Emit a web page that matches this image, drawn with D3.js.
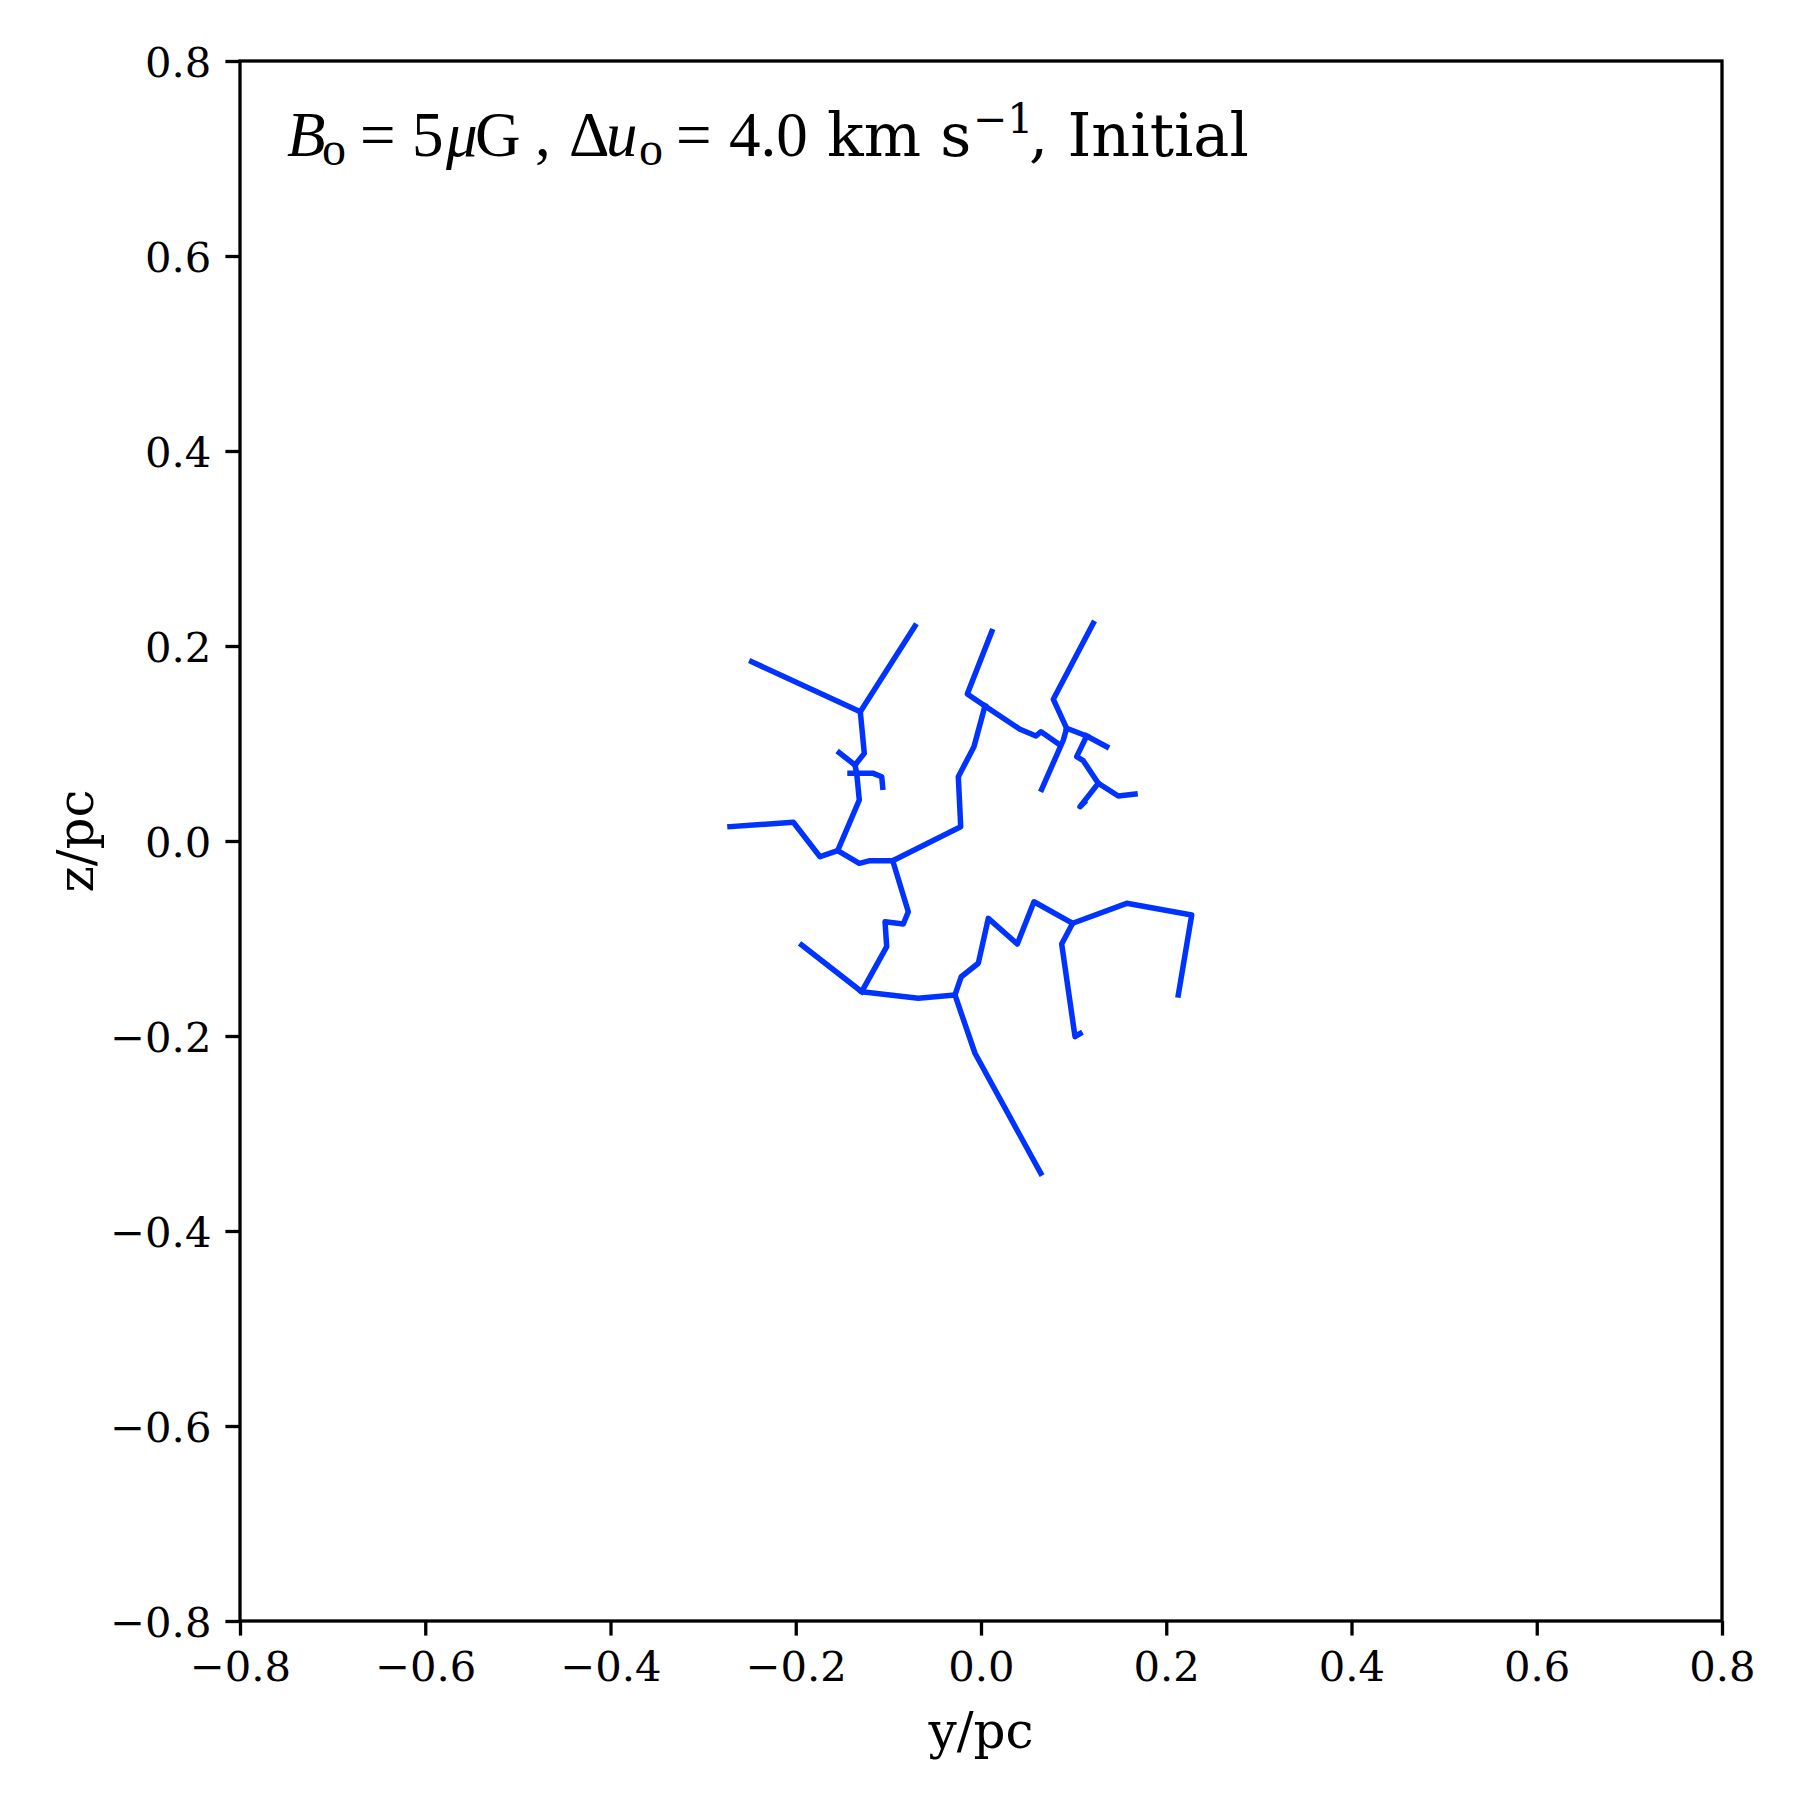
<!DOCTYPE html>
<html><head><meta charset="utf-8">
<script src="https://cdn.jsdelivr.net/npm/d3@7"></script>
<style>body{margin:0;background:#fff}svg{display:block}</style>
</head><body>
<script>
// Filament skeleton segments: [y/pc, z/pc]
const fil1 = [[-0.2476,0.1839],[-0.1303,0.1326],[-0.0713,0.2205]];
const fil2 = [[-0.1303,0.1326],[-0.1260,0.0899],[-0.1360,0.0779],[-0.1342,0.0694],[-0.1314,0.0421],[-0.1547,-0.0099]];
const fil3 = [[-0.1530,0.0906],[-0.1360,0.0779]];
const fil4 = [[-0.1414,0.0694],[-0.1163,0.0694],[-0.1072,0.0659],[-0.1061,0.0551]];
const fil5 = [[-0.2710,0.0147],[-0.2026,0.0192],[-0.1738,-0.0161],[-0.1547,-0.0099],[-0.1314,-0.0229],[-0.1198,-0.0202],[-0.0953,-0.0202],[-0.0219,0.0147],[-0.0245,0.0659],[-0.0076,0.0967],[0.0043,0.1385]];
const fil6 = [[0.0116,0.2147],[-0.0148,0.1508],[0.0043,0.1385]];
const fil7 = [[0.0043,0.1385],[0.0421,0.1146],[0.0594,0.1077],[0.0648,0.1121],[0.0853,0.0985]];
const fil8 = [[0.1212,0.2233],[0.0781,0.1453],[0.0925,0.1156],[0.0889,0.1036],[0.0655,0.0530]];
const fil9 = [[0.0925,0.1156],[0.1141,0.1077],[0.1357,0.0967]];
const fil10 = [[0.1141,0.1077],[0.1033,0.0865],[0.1104,0.0824],[0.1266,0.0592],[0.1482,0.0462],[0.1663,0.0482]];
const fil11 = [[0.1266,0.0592],[0.1069,0.0352],[0.1115,0.0395]];
const fil12 = [[-0.0953,-0.0202],[-0.0785,-0.0725],[-0.0839,-0.0851],[-0.1036,-0.0828],[-0.1018,-0.1084],[-0.1288,-0.1546]];
const fil13 = [[-0.1936,-0.1067],[-0.1288,-0.1546],[-0.0677,-0.1613],[-0.0281,-0.1579],[-0.0065,-0.2177],[0.0645,-0.3408]];
const fil14 = [[-0.0281,-0.1579],[-0.0213,-0.1392],[-0.0029,-0.1254],[0.0079,-0.0793],[0.0392,-0.1056],[0.0572,-0.0623],[0.0990,-0.0844],[0.1573,-0.0639],[0.2275,-0.0759],[0.2130,-0.1579]];
const fil15 = [[0.0990,-0.0844],[0.0871,-0.1056],[0.1015,-0.2007],[0.1070,-0.1975]];
const filaments = [fil1,fil2,fil3,fil4,fil5,fil6,fil7,fil8,fil9,fil10,fil11,fil12,fil13,fil14,fil15];

const xTicks = [-0.8,-0.6,-0.4,-0.2,0.0,0.2,0.4,0.6,0.8];
const yTicks = [-0.8,-0.6,-0.4,-0.2,0.0,0.2,0.4,0.6,0.8];
const xDomain = [-0.8,0.8];
const yDomain = [-0.8,0.8];

const W = 1800, H = 1800;
const m = {left:240, right:78, top:61, bottom:179};
const svg = d3.select("body").append("svg").attr("width",W).attr("height",H);
const x = d3.scaleLinear().domain(xDomain).range([m.left, W-m.right]);
const y = d3.scaleLinear().domain(yDomain).range([H-m.bottom, m.top]);
const fmt = d3.format(".1f");
const font = "DejaVu Serif";
const mathFont = "Liberation Serif";

const line = d3.line().x(d=>x(d[0])).y(d=>y(d[1]));
const g = svg.append("g");
g.selectAll("path.fil").data(filaments).join("path")
  .attr("class","fil").attr("d",line)
  .attr("fill","none").attr("stroke","#0033ff").attr("stroke-width",5.5)
  .attr("stroke-linecap","square").attr("stroke-linejoin","round");

const xa = svg.append("g").attr("transform",`translate(0,${H-m.bottom})`)
  .call(d3.axisBottom(x).tickValues(xTicks).tickFormat(fmt).tickSize(14.6).tickPadding(14));
const ya = svg.append("g").attr("transform",`translate(${m.left},0)`)
  .call(d3.axisLeft(y).tickValues(yTicks).tickFormat(fmt).tickSize(14.6).tickPadding(14));
[xa,ya].forEach(a=>{
  a.select(".domain").remove();
  a.selectAll(".tick line").attr("stroke","#000").attr("stroke-width",3.3);
  a.selectAll(".tick text").attr("font-family",font).attr("font-size",41.7).attr("fill","#000");
});
xa.selectAll(".tick text").attr("dy","0.76em");
ya.selectAll(".tick text").attr("dy","0.36em");

svg.append("rect").attr("x",m.left).attr("y",m.top)
  .attr("width",W-m.left-m.right).attr("height",H-m.top-m.bottom)
  .attr("fill","none").attr("stroke","#000").attr("stroke-width",3.3);

svg.append("text").attr("x",(m.left+W-m.right)/2).attr("y",1748)
  .attr("text-anchor","middle").attr("font-family",font).attr("font-size",50).text("y/pc");
svg.append("text").attr("transform",`translate(75,${(m.top+H-m.bottom)/2}) rotate(-90)`)
  .attr("text-anchor","middle").attr("dy","0.35em").attr("font-family",font).attr("font-size",50).text("z/pc");

// Title (mathtext-like)
const base = 156;
const parts = [
  {s:"B",x:287,f:mathFont,sz:63,st:"italic"},
  {s:"o",x:322,f:mathFont,sz:48,dy:9},
  {s:"=",x:360,f:mathFont,sz:63},
  {s:"5",x:412,f:mathFont,sz:63},
  {s:"μ",x:446,f:mathFont,sz:63,st:"italic"},
  {s:"G",x:475,f:mathFont,sz:63},
  {s:",",x:535,f:mathFont,sz:63},
  {s:"Δ",x:569,f:mathFont,sz:63},
  {s:"u",x:606,f:mathFont,sz:63,st:"italic"},
  {s:"o",x:639,f:mathFont,sz:48,dy:9},
  {s:"=",x:676,f:mathFont,sz:63},
  {s:"4.0",x:729,f:mathFont,sz:63},
  {s:"km s",x:827,f:font,sz:60.5},
  {s:"−1",x:973,f:font,sz:41,dy:-23},
  {s:", Initial",x:1029,f:font,sz:60.5}
];
const title = svg.append("g");
parts.forEach(p=>{
  const t = title.append("text").attr("x",p.x).attr("y",base+(p.dy||0))
    .attr("font-family",p.f).attr("font-size",p.sz).attr("fill","#000").text(p.s);
  if (p.st) t.attr("font-style",p.st);
});
</script>
</body></html>
